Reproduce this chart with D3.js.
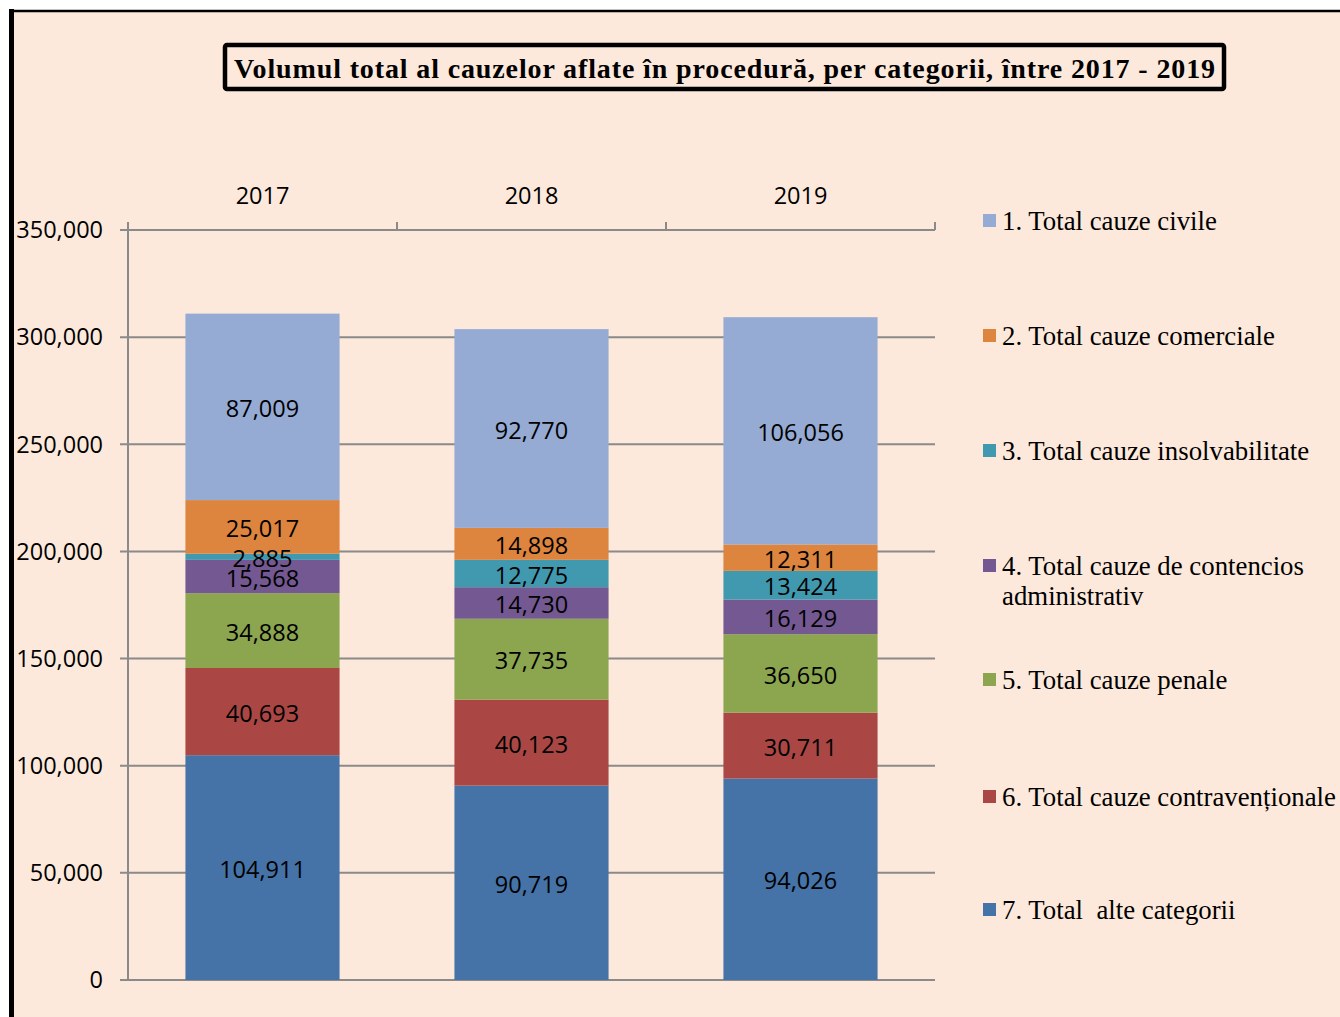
<!DOCTYPE html>
<html lang="ro">
<head>
  <meta charset="utf-8"/>
  <title>Volumul total al cauzelor aflate în procedură</title>
  <script src="https://cdnjs.cloudflare.com/ajax/libs/d3/7.8.5/d3.min.js"></script>
  <style>
    html, body { margin: 0; padding: 0; background: #fff; }
    svg { display: block; }
  </style>
</head>
<body>
<svg id="chart" width="1340" height="1017"></svg>
<script>
  // data
  var years = ["2017", "2018", "2019"];
  var categories = [
    "1. Total cauze civile",
    "2. Total cauze comerciale",
    "3. Total cauze insolvabilitate",
    "4. Total cauze de contencios administrativ",
    "5. Total cauze penale",
    "6. Total cauze contravenționale",
    "7. Total  alte categorii"
  ];
  var civile          = [87009, 92770, 106056];
  var comerciale      = [25017, 14898, 12311];
  var insolvabilitate = [2885, 12775, 13424];
  var contencios      = [15568, 14730, 16129];
  var penale          = [34888, 37735, 36650];
  var contraventii    = [40693, 40123, 30711];
  var alte            = [104911, 90719, 94026];
  var yTicks = [0, 50000, 100000, 150000, 200000, 250000, 300000, 350000];

  var colors = ["#95abd3", "#dd843e", "#4199b0", "#735891", "#8ca54f", "#aa4744", "#4573a7"];
  var seriesValues = [civile, comerciale, insolvabilitate, contencios, penale, contraventii, alte];

  var svg = d3.select("#chart");
  var fmt = d3.format(",");

  // outer frame
  svg.append("rect").attr("x", 11).attr("y", 11).attr("width", 1340).attr("height", 1017)
    .attr("fill", "#fde9db");
  svg.append("line").attr("x1", 11.5).attr("x2", 11.5).attr("y1", 9).attr("y2", 1017)
    .attr("stroke", "#000").attr("stroke-width", 5);
  svg.append("line").attr("x1", 9).attr("x2", 1340).attr("y1", 11).attr("y2", 11)
    .attr("stroke", "#000").attr("stroke-width", 2.5);

  // title
  svg.append("rect").attr("x", 225).attr("y", 45).attr("width", 999).attr("height", 44)
    .attr("rx", 2).attr("fill", "none").attr("stroke", "#000").attr("stroke-width", 4.5);
  svg.append("text").attr("x", 234).attr("y", 78)
    .attr("textLength", 981).attr("lengthAdjust", "spacing")
    .style("font-family", "'Liberation Serif', 'Times New Roman', serif")
    .style("font-weight", "bold").style("font-size", "28px")
    .text("Volumul total al cauzelor aflate în procedură, per categorii, între 2017 - 2019");

  // plot area
  var plotL = 128, plotR = 935, plotT = 230, plotB = 980;
  var x = d3.scaleBand().domain(years).range([plotL, plotR]).paddingInner(0.427).paddingOuter(0.2135);
  var y = d3.scaleLinear().domain([0, 350000]).range([plotB, plotT]);

  var rows = years.map(function(yr, i) {
    var r = { year: yr };
    categories.forEach(function(c, k) { r[c] = seriesValues[k][i]; });
    return r;
  });
  // bottom of the stack is the last category
  var stacked = d3.stack().keys(categories.slice().reverse())(rows);

  var axisFont = "'Open Sans', 'Noto Sans', sans-serif";
  var numSize = "23.5px";
  var gridColor = "#8a8a8a";

  // gridlines + left axis
  var gy = svg.append("g");
  gy.selectAll("line").data(yTicks).enter().append("line")
    .attr("x1", plotL - 8).attr("x2", plotR)
    .attr("y1", function(d) { return y(d); }).attr("y2", function(d) { return y(d); })
    .attr("stroke", gridColor).attr("stroke-width", 2);
  svg.append("line").attr("x1", plotL).attr("x2", plotL).attr("y1", plotT - 8).attr("y2", plotB)
    .attr("stroke", gridColor).attr("stroke-width", 2);
  gy.selectAll("text").data(yTicks).enter().append("text")
    .attr("x", 103).attr("y", function(d) { return y(d); }).attr("dy", "0.35em")
    .attr("text-anchor", "end")
    .style("font-family", axisFont).style("font-size", numSize).style("fill", "#000")
    .text(function(d) { return fmt(d); });

  // top category axis
  var band = (plotR - plotL) / years.length;
  var catTicks = years.map(function(d, i) { return plotL + band * (i + 1); });
  svg.append("g").selectAll("line").data(catTicks).enter().append("line")
    .attr("x1", function(d) { return d; }).attr("x2", function(d) { return d; })
    .attr("y1", plotT - 8).attr("y2", plotT)
    .attr("stroke", gridColor).attr("stroke-width", 2);
  svg.append("g").selectAll("text").data(years).enter().append("text")
    .attr("x", function(d) { return x(d) + x.bandwidth() / 2; }).attr("y", 196).attr("dy", "0.35em")
    .attr("text-anchor", "middle")
    .style("font-family", axisFont).style("font-size", numSize)
    .text(function(d) { return d; });

  // bars
  var nCat = categories.length;
  var layers = svg.selectAll("g.layer").data(stacked).enter().append("g")
    .attr("class", "layer")
    .attr("fill", function(d, i) { return colors[nCat - 1 - i]; });
  layers.selectAll("rect").data(function(d) { return d; }).enter().append("rect")
    .attr("x", function(d) { return x(d.data.year); })
    .attr("width", x.bandwidth())
    .attr("y", function(d) { return y(d[1]); })
    .attr("height", function(d) { return y(d[0]) - y(d[1]); });

  // value labels (drawn after every bar so none is hidden)
  svg.selectAll("g.vlabels").data(stacked).enter().append("g")
    .attr("class", "vlabels")
    .selectAll("text").data(function(d) { return d; }).enter().append("text")
    .attr("x", function(d) { return x(d.data.year) + x.bandwidth() / 2; })
    .attr("y", function(d) { return y((d[0] + d[1]) / 2) + 2; })
    .attr("dy", "0.35em").attr("text-anchor", "middle")
    .style("font-family", axisFont).style("font-size", numSize).style("fill", "#000")
    .text(function(d) { return fmt(d[1] - d[0]); });

  // legend
  var legendY = [221, 336, 451, 566, 680, 797, 910];
  var serif = "'Liberation Serif', 'Times New Roman', serif";
  var lg = svg.selectAll("g.legend").data(categories).enter().append("g")
    .attr("class", "legend")
    .attr("transform", function(d, i) { return "translate(983," + legendY[i] + ")"; });
  lg.append("rect").attr("x", 0).attr("y", -7).attr("width", 13).attr("height", 13)
    .attr("fill", function(d, i) { return colors[i]; });
  lg.append("text").attr("x", 19).attr("y", 0).attr("dy", "0.33em")
    .style("font-family", serif).style("font-size", "26.8px").style("fill", "#000")
    .style("white-space", "pre")
    .each(function(d, i) {
      var t = d3.select(this);
      if (i === 3) {
        t.append("tspan").attr("x", 19).text("4. Total cauze de contencios");
        t.append("tspan").attr("x", 19).attr("dy", "1.12em").text("administrativ");
      } else {
        t.text(d);
      }
    });
</script>
</body>
</html>
